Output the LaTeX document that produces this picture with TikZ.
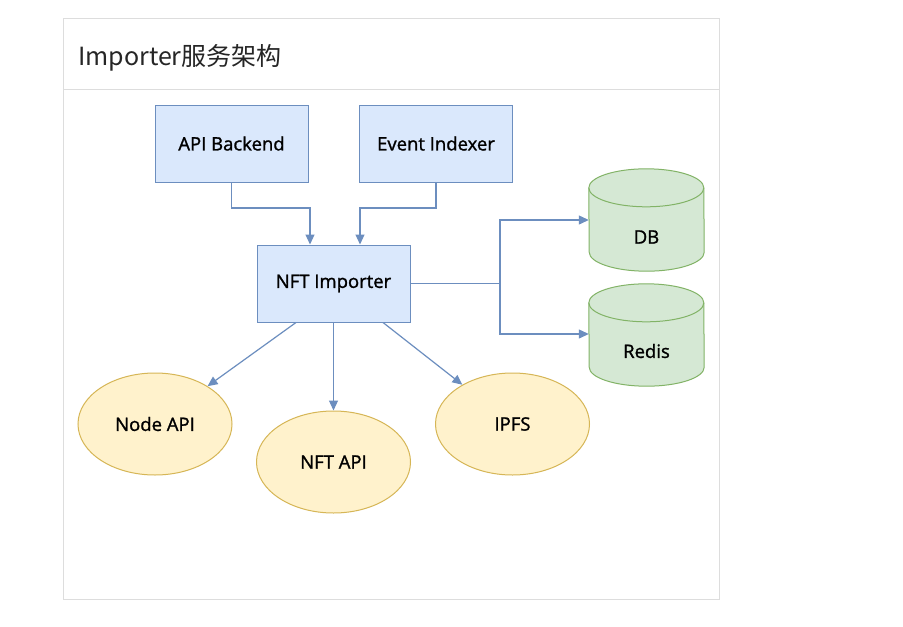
\documentclass[tikz,border=0pt]{standalone}
\usepackage{fontspec}
\setmainfont{Open Sans}
\newfontfamily\lblfont[FakeBold=1.3]{Open Sans}
\newfontfamily\cjkfont{Noto Sans CJK SC}
\usetikzlibrary{arrows.meta,shapes.geometric}
\definecolor{bfill}{HTML}{DAE8FC}
\definecolor{bline}{HTML}{6C8EBF}
\definecolor{gfill}{HTML}{D5E8D4}
\definecolor{gline}{HTML}{82B366}
\definecolor{yfill}{HTML}{FFF2CC}
\definecolor{yline}{HTML}{D6B656}
\definecolor{panel}{HTML}{DDDDDD}
\tikzset{
  x=1pt,y=-1pt,
  lbl/.style={font=\lblfont\fontsize{18.5}{22}\selectfont},
  box/.style={lbl,draw=bline,fill=bfill,line width=1pt,minimum width=153pt,minimum height=77pt,inner sep=0pt},
  ell/.style={lbl,ellipse,draw=yline,fill=yfill,line width=1pt,minimum width=154pt,minimum height=102pt,inner sep=0pt},
  cylarea/.style={minimum width=115pt,minimum height=102pt,inner sep=0pt},
  cylshape/.style={draw=gline,fill=gfill,line width=1pt},
  cylline/.style={draw=gline,line width=1pt},
  conn/.style={draw=bline,line width=1.2pt,-{Triangle[length=10pt,width=9pt]}},
}
\newcommand{\drawcyl}[1]{%
  \path[cylshape] (#1.north west) ++(0,19) arc[start angle=180,end angle=0,x radius=57.5,y radius=-19]
    -- ([yshift=19pt]#1.south east) arc[start angle=0,end angle=-180,x radius=57.5,y radius=-19] -- cycle;
  \path[cylline] (#1.north west) ++(0,19) arc[start angle=180,end angle=360,x radius=57.5,y radius=-19];
}
\begin{document}
\begin{tikzpicture}
\useasboundingbox (0,0) rectangle (903,627);
\fill[white] (0,0) rectangle (903,627);
% panel
\draw[panel,line width=1pt] (63.5,18.5) rectangle (719.5,599.5);
\draw[panel,line width=1pt] (63.5,89.5) -- (719.5,89.5);
\node[anchor=base west,inner sep=0pt,font=\cjkfont\fontsize{25}{28}\selectfont,text=black!85] (title) at (78,65) {Importer服务架构};
% nodes
\node[box] (api) at (231.5,143.5) {API Backend};
\node[box] (evt) at (436,143.5) {Event Indexer};
\node[box] (nft) at (333.5,283.5) {NFT Importer};
\node[cylarea] (db) at (646.5,220) {};
\node[cylarea] (redis) at (646.5,335) {};
\drawcyl{db}
\drawcyl{redis}
\node[lbl] (dbt) at (646.5,237) {DB};
\node[lbl] (redist) at (646.5,351) {Redis};
\node[ell] (node) at (155,424) {Node API};
\node[ell] (nftapi) at (333.5,462) {NFT API};
\node[ell] (ipfs) at (512.5,424) {IPFS};
% connectors
\draw[conn] (api.south) |- (310,208) -- (nft.north -| 310,0);
\draw[conn] (evt.south) |- (360,208) -- (nft.north -| 360,0);
\draw[conn] (nft.east) -| (500,220) -- (db.west |- 0,220);
\draw[conn] (nft.east) -| (500,334) -- (redis.west |- 0,334);
\draw[conn] (nft.south -| 296,0) -- (node);
\draw[conn] (nft.south) -- (nftapi.north);
\draw[conn] (nft.south -| 383,0) -- (ipfs);
\end{tikzpicture}
\end{document}
